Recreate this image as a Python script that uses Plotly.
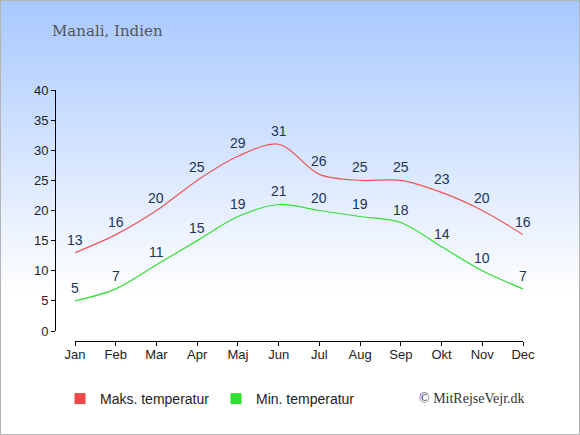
import base64
import plotly.graph_objects as go

# Manali, Indien - monthly temperatures (°C)
months = ["Jan", "Feb", "Mar", "Apr", "Maj", "Jun", "Jul", "Aug", "Sep", "Okt", "Nov", "Dec"]
max_temp = [13, 16, 20, 25, 29, 31, 26, 25, 25, 23, 20, 16]
min_temp = [5, 7, 11, 15, 19, 21, 20, 19, 18, 14, 10, 7]
y_ticks = [0, 5, 10, 15, 20, 25, 30, 35, 40]

W, H = 580, 435
label_color = "#223355"

# background gradient (light blue at top fading to white)
svg = (
    f'<svg xmlns="http://www.w3.org/2000/svg" width="{W}" height="{H}" preserveAspectRatio="none">'
    '<defs><linearGradient id="g" x1="0" y1="0" x2="0" y2="1">'
    '<stop offset="0" stop-color="#a8c8ff"/>'
    '<stop offset="0.68" stop-color="#ffffff"/>'
    '<stop offset="1" stop-color="#ffffff"/>'
    '</linearGradient></defs>'
    f'<rect width="{W}" height="{H}" fill="url(#g)"/></svg>'
)
bg_src = "data:image/svg+xml;base64," + base64.b64encode(svg.encode()).decode()


def px_x(p):
    return p / W


def px_y(p):
    return (H - p) / H


fig = go.Figure()

fig.add_trace(go.Scatter(
    x=months, y=max_temp, mode="lines",
    line=dict(color="#f05454", width=1.2, shape="spline", smoothing=0.9),
    showlegend=False, hoverinfo="skip",
))
fig.add_trace(go.Scatter(
    x=months, y=min_temp, mode="lines",
    line=dict(color="#33e033", width=1.2, shape="spline", smoothing=0.9),
    showlegend=False, hoverinfo="skip",
))

# legend entries
fig.add_trace(go.Scatter(x=[None], y=[None], mode="markers", name="Maks. temperatur",
                         marker=dict(symbol="square", size=11, color="#f04848")))
fig.add_trace(go.Scatter(x=[None], y=[None], mode="markers", name="Min. temperatur",
                         marker=dict(symbol="square", size=11, color="#30e030")))

annotations = []
for series in (max_temp, min_temp):
    for m, v in zip(months, series):
        annotations.append(dict(
            x=m, y=v, xref="x", yref="y", text=str(v), showarrow=False,
            yshift=13, yanchor="middle", xanchor="center",
            font=dict(family="Liberation Sans", size=14, color=label_color),
        ))

annotations += [
    dict(text="Manali, Indien", xref="paper", yref="paper", x=px_x(50), y=px_y(31),
         xanchor="left", yanchor="middle", showarrow=False,
         font=dict(family="DejaVu Serif", size=15, color="#555555")),
    dict(text="© MitRejseVejr.dk", xref="paper", yref="paper", x=px_x(527), y=px_y(398),
         xanchor="right", yanchor="middle", showarrow=False,
         font=dict(family="Liberation Serif", size=14, color="#333333")),
]

fig.update_layout(
    template="none",
    width=W, height=H,
    margin=dict(l=0, r=0, t=0, b=0, pad=0),
    paper_bgcolor="white",
    plot_bgcolor="rgba(0,0,0,0)",
    font=dict(family="Liberation Sans", size=13, color="#222222"),
    images=[dict(source=bg_src, xref="paper", yref="paper", x=0, y=1, sizex=1, sizey=1,
                 sizing="stretch", layer="below")],
    xaxis=dict(
        domain=[px_x(75), px_x(523)], range=[0, 11], automargin=False,
        anchor="free", position=px_y(341),
        showgrid=False, zeroline=False, showline=True, linecolor="black", linewidth=1,
        ticks="outside", ticklen=4, tickcolor="black", ticklabelstandoff=-3,
        tickfont=dict(size=13, color="#222222"), fixedrange=True,
    ),
    yaxis=dict(
        domain=[px_y(331), px_y(90)], range=[0, 40], automargin=False,
        anchor="free", position=px_x(55),
        tickvals=y_ticks,
        showgrid=False, zeroline=False, showline=True, linecolor="black", linewidth=1,
        ticks="outside", ticklen=4, tickcolor="black",
        tickfont=dict(size=13, color="#222222"), fixedrange=True,
    ),
    legend=dict(
        orientation="h", x=px_x(60), y=px_y(399), xanchor="left", yanchor="middle",
        font=dict(size=14, color="#222222", family="Liberation Sans"),
        itemwidth=30, entrywidth=111, entrywidthmode="pixels",
        bgcolor="rgba(0,0,0,0)",
    ),
    annotations=annotations,
    shapes=[dict(type="rect", xref="paper", yref="paper", x0=0, y0=0, x1=1, y1=1,
                 line=dict(color="#b4b4b4", width=2), fillcolor="rgba(0,0,0,0)")],
)

# drop the default page margin so the chart sits at the window's top-left corner
fig.write_html("out.html", config={"displayModeBar": False},
               post_script="document.body.style.margin = '0';")
